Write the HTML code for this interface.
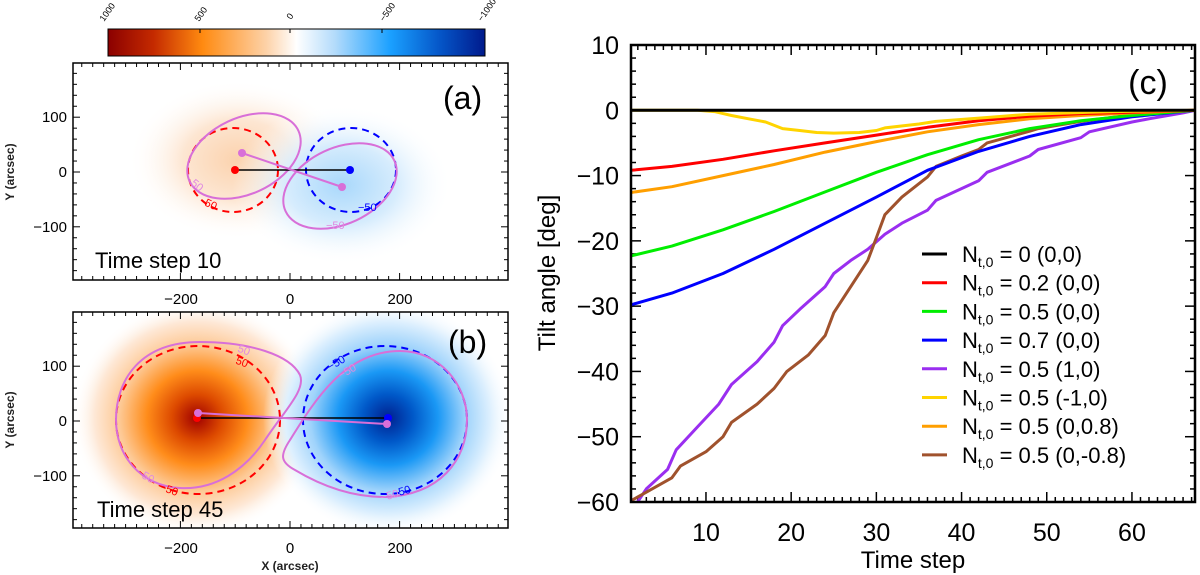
<!DOCTYPE html>
<html><head><meta charset="utf-8"><style>
html,body{margin:0;padding:0;background:#fff;}
svg{display:block;font-family:"Liberation Sans",sans-serif;}
</style></head><body>
<svg id="fig" width="1200" height="575" viewBox="0 0 1200 575">
<defs>
<linearGradient id="cbar" x1="0" x2="1" y1="0" y2="0">
<stop offset="0" stop-color="#8b0000"/><stop offset="0.12" stop-color="#c42a00"/><stop offset="0.25" stop-color="#ff8a10"/><stop offset="0.42" stop-color="#fdd2a8"/><stop offset="0.5" stop-color="#ffffff"/><stop offset="0.6" stop-color="#b5dcfb"/><stop offset="0.75" stop-color="#1aa0ff"/><stop offset="0.88" stop-color="#0556c8"/><stop offset="1" stop-color="#001a8c"/>
</linearGradient>
<radialGradient id="ra" cx="0.5" cy="0.5" r="0.5"><stop offset="0" stop-color="#fbd2ad"/><stop offset="0.5" stop-color="#fde6d2"/><stop offset="1" stop-color="#fff" stop-opacity="0"/></radialGradient>
<radialGradient id="ba" cx="0.5" cy="0.5" r="0.5"><stop offset="0" stop-color="#a9d8fb"/><stop offset="0.5" stop-color="#d6ecfd"/><stop offset="1" stop-color="#fff" stop-opacity="0"/></radialGradient>
<radialGradient id="rb" cx="0.5" cy="0.5" r="0.5"><stop offset="0" stop-color="#a00000"/><stop offset="0.2" stop-color="#dd4a00"/><stop offset="0.4" stop-color="#ff8c1a"/><stop offset="0.62" stop-color="#fdc995"/><stop offset="0.82" stop-color="#fee8d6"/><stop offset="1" stop-color="#fff" stop-opacity="0"/></radialGradient>
<radialGradient id="bb" cx="0.5" cy="0.5" r="0.5"><stop offset="0" stop-color="#00208f"/><stop offset="0.2" stop-color="#0058c8"/><stop offset="0.4" stop-color="#1a98f5"/><stop offset="0.62" stop-color="#9fd3fb"/><stop offset="0.82" stop-color="#def0fe"/><stop offset="1" stop-color="#fff" stop-opacity="0"/></radialGradient>
<clipPath id="cpa"><rect x="73" y="63" width="435" height="217"/></clipPath>
<clipPath id="cpb"><rect x="73" y="312" width="435" height="216"/></clipPath>
<clipPath id="cpc"><rect x="631" y="45" width="564" height="457"/></clipPath>
</defs>

<g>
<rect x="108" y="29" width="377" height="27" fill="url(#cbar)" stroke="#000" stroke-width="1"/>
<g font-size="9" fill="#000">
<text transform="translate(104,22) rotate(-55)">1000</text>
<text transform="translate(199,22) rotate(-55)">500</text>
<text transform="translate(291,20) rotate(-55)">0</text>
<text transform="translate(384,22) rotate(-55)">−500</text>
<text transform="translate(482,22) rotate(-55)">−1000</text>
</g>
<g stroke="#000" stroke-width="1"><line x1="200" y1="29" x2="200" y2="33"/><line x1="290" y1="29" x2="290" y2="33"/><line x1="382" y1="29" x2="382" y2="33"/></g>
</g>

<g>
<g clip-path="url(#cpa)">
<ellipse cx="238" cy="160" rx="110" ry="80" fill="url(#ra)"/>
<ellipse cx="342" cy="185" rx="110" ry="80" fill="url(#ba)"/>
</g>
<ellipse cx="233" cy="170" rx="45" ry="42" fill="none" stroke="#f00" stroke-width="2" stroke-dasharray="7,5"/>
<ellipse cx="351" cy="170" rx="45" ry="42" fill="none" stroke="#00f" stroke-width="2" stroke-dasharray="7,5"/>
<ellipse cx="244" cy="156" rx="60" ry="38" transform="rotate(-25 244 156)" fill="none" stroke="#d86fd8" stroke-width="2"/>
<ellipse cx="340" cy="186" rx="60" ry="38" transform="rotate(-25 340 186)" fill="none" stroke="#d86fd8" stroke-width="2"/>
<line x1="235" y1="170" x2="350" y2="170" stroke="#000" stroke-width="1.5"/>
<line x1="242" y1="153" x2="342" y2="187" stroke="#d86fd8" stroke-width="2"/>
<circle cx="235" cy="170" r="4" fill="#f00"/><circle cx="350" cy="170" r="4" fill="#00f"/>
<circle cx="242" cy="153" r="4" fill="#d86fd8"/><circle cx="342" cy="187" r="4" fill="#d86fd8"/>
<g font-size="11">
<text x="191" y="188" fill="#e08ae0" transform="rotate(40 196 185)">50</text>
<text x="205" y="208" fill="#f00" transform="rotate(25 211 204)">50</text>
<text x="358" y="211" fill="#00f">−50</text>
<text x="326" y="229" fill="#e08ae0">−50</text>
</g>
<rect x="73" y="63" width="435" height="217" fill="none" stroke="#000" stroke-width="1.5"/>
<text x="95" y="268" font-size="22">Time step 10</text>
<text x="443" y="109" font-size="32">(a)</text>
<text transform="translate(14,172) rotate(-90)" text-anchor="middle" font-size="12" font-weight="bold" fill="#222">Y (arcsec)</text>
<g font-size="15" text-anchor="middle">
<text x="181" y="304">−200</text><text x="290" y="304">0</text><text x="400" y="304">200</text></g>
<g font-size="15" text-anchor="end">
<text x="67" y="122">100</text><text x="67" y="177">0</text><text x="67" y="232">−100</text></g>
<g id="ticksA" stroke="#000" stroke-width="1"></g>
</g>

<g>
<g clip-path="url(#cpb)">
<ellipse cx="197" cy="418" rx="125" ry="118" fill="url(#rb)"/>
<ellipse cx="388" cy="418" rx="125" ry="118" fill="url(#bb)"/>
</g>
<ellipse cx="198" cy="420" rx="82" ry="74" fill="none" stroke="#f00" stroke-width="2" stroke-dasharray="7,5"/>
<ellipse cx="385" cy="420" rx="82" ry="74" fill="none" stroke="#00f" stroke-width="2" stroke-dasharray="7,5"/>
<path d="M200 342 C250 342 290 355 300 375 C306 390 285 410 265 440 C245 470 215 490 180 488 C140 486 116 455 116 420 C116 380 140 342 200 342 Z" fill="none" stroke="#d86fd8" stroke-width="2"/>
<path d="M400 351 C440 351 467 385 467 420 C467 460 440 495 385 497 C350 497 320 485 295 470 C280 462 280 455 290 440 C315 400 345 351 400 351 Z" fill="none" stroke="#d86fd8" stroke-width="2"/>
<line x1="197" y1="418" x2="388" y2="418" stroke="#000" stroke-width="1.5"/>
<line x1="198" y1="413" x2="387" y2="424" stroke="#d86fd8" stroke-width="2"/>
<circle cx="197" cy="418" r="4" fill="#f00"/><circle cx="388" cy="418" r="4" fill="#00f"/>
<circle cx="198" cy="413" r="4" fill="#d86fd8"/><circle cx="387" cy="424" r="4" fill="#d86fd8"/>
<g font-size="11">
<text x="238" y="354" fill="#e08ae0" transform="rotate(20 245 350)">50</text>
<text x="236" y="366" fill="#f00" transform="rotate(20 243 362)">50</text>
<text x="326" y="368" fill="#00f" transform="rotate(-30 333 362)">−50</text>
<text x="338" y="376" fill="#e08ae0" transform="rotate(-30 345 372)">−50</text>
<text x="142" y="482" fill="#e08ae0" transform="rotate(30 150 478)">50</text>
<text x="160" y="492" fill="#f00" transform="rotate(20 166 488)">−50</text>
<text x="392" y="496" fill="#00f" transform="rotate(-15 398 492)">−50</text>
<text x="380" y="500" fill="#e08ae0" transform="rotate(-15 386 496)">−50</text>
</g>
<rect x="73" y="312" width="435" height="216" fill="none" stroke="#000" stroke-width="1.5"/>
<text x="97" y="517" font-size="22">Time step 45</text>
<text x="448" y="353" font-size="32">(b)</text>
<text transform="translate(14,420) rotate(-90)" text-anchor="middle" font-size="12" font-weight="bold" fill="#222">Y (arcsec)</text>
<text x="290" y="570" text-anchor="middle" font-size="12" font-weight="bold" fill="#222">X (arcsec)</text>
<g font-size="15" text-anchor="middle">
<text x="181" y="553">−200</text><text x="290" y="553">0</text><text x="400" y="553">200</text></g>
<g font-size="15" text-anchor="end">
<text x="67" y="371">100</text><text x="67" y="426">0</text><text x="67" y="481">−100</text></g>
<g id="ticksB" stroke="#000" stroke-width="1"></g>
</g>

<g id="panelC">
<g id="cTicks" stroke="#000" stroke-width="1.5"></g>
<g id="cLabels"></g>
<g id="cLines" clip-path="url(#cpc)"></g>
<rect x="631" y="45" width="564" height="457" fill="none" stroke="#000" stroke-width="2.5"/>
<text x="1148" y="94" font-size="34" text-anchor="middle">(c)</text>
<text x="913" y="568" font-size="24" text-anchor="middle">Time step</text>
<text transform="translate(555,273) rotate(-90)" font-size="24" text-anchor="middle">Tilt angle [deg]</text>
<g id="legend"></g>
</g>
</svg>
<script>
const NS='http://www.w3.org/2000/svg';
const seriesNames=['0 (0,0)','0.2 (0,0)','0.5 (0,0)','0.7 (0,0)','0.5 (1,0)','0.5 (-1,0)','0.5 (0,0.8)','0.5 (0,-0.8)'];
const seriesColors=['#000000','#ff0000','#00ee00','#0000ff','#9a2ef0','#ffd400','#ff9f00','#a0522d'];
const blackX=[1.2,67.4];
const blackY=[0,0];
const redX=[1.2,6,12,18,24,30,36,42,48,54,60,67.4];
const redY=[-9.2,-8.6,-7.5,-6.2,-5,-3.8,-2.6,-1.6,-0.9,-0.5,-0.3,0];
const greenX=[1.2,6,12,18,24,30,36,42,48,54,60,67.4];
const greenY=[-22.3,-20.8,-18.3,-15.5,-12.5,-9.5,-6.8,-4.5,-2.8,-1.6,-0.8,0];
const blueX=[1.2,6,12,18,24,30,36,42,48,54,60,67.4];
const blueY=[-29.8,-28,-25,-21.3,-17.3,-13.3,-9.2,-6.3,-4,-2.2,-1,0];
const purpleX=[1.2,3,5.5,6.5,9,11.5,13,16,18,19,21,24,25,27,29,31,33,36,37,42,43,48,49,54,55,60,62,66,67.4];
const purpleY=[-61.5,-58,-55,-52,-48.5,-45,-42,-38.5,-35.5,-33,-30.5,-27,-25,-23,-21.3,-19,-17.3,-15.3,-13.8,-10.8,-9.5,-7,-6,-4.2,-3.3,-1.8,-1.3,-0.4,0];
const yellowX=[1.2,9,11,12,13,15,17,19,21,23,25,28,30,31,35,37,43,48,55,60,67.4];
const yellowY=[0,0,-0.2,-0.5,-0.8,-1.3,-1.8,-2.8,-3.1,-3.4,-3.5,-3.4,-3.1,-2.7,-2.1,-1.7,-1.1,-0.6,-0.3,-0.15,0];
const orangeX=[1.2,6,12,18,24,30,36,42,48,54,60,67.4];
const orangeY=[-12.6,-11.7,-10,-8.3,-6.4,-4.8,-3.3,-2.2,-1.3,-0.8,-0.4,0];
const brownX=[1.2,3,6,7,10,12,13,16,18,19.5,22,24,25,27,29,30,31,33,36,37,40,42,43,48,49,54,60,67.4];
const brownY=[-59.8,-58.5,-56.3,-54.5,-52.3,-50,-47.8,-45,-42.6,-40,-37.5,-34.5,-31,-27,-23,-19.5,-16,-13.3,-10.2,-8.6,-7,-6,-5,-3.2,-2.8,-1.7,-0.7,0];
const xTickVals=[10,20,30,40,50,60];
const yTickVals=[10,0,-10,-20,-30,-40,-50,-60];
const yTickLabels=['10','0','−10','−20','−30','−40','−50','−60'];

const X0=631,X1=1195,Y0=45,Y1=502,XMIN=1.2,XMAX=67.4,YMIN=-60,YMAX=10;
function sx(v){return X0+(v-XMIN)/(XMAX-XMIN)*(X1-X0);}
function sy(v){return Y1-(v-YMIN)/(YMAX-YMIN)*(Y1-Y0);}
function mk(tag,attrs,parent){const e=document.createElementNS(NS,tag);for(const k in attrs)e.setAttribute(k,attrs[k]);parent.appendChild(e);return e;}

const allX=[blackX,redX,greenX,blueX,purpleX,yellowX,orangeX,brownX];
const allY=[blackY,redY,greenY,blueY,purpleY,yellowY,orangeY,brownY];
const order=[4,7,3,2,6,1,5,0];
const lines=document.getElementById('cLines');
order.forEach(i=>{
  const d=allX[i].map((x,j)=>(j?'L':'M')+sx(x).toFixed(1)+' '+sy(allY[i][j]).toFixed(1)).join(' ');
  const p=mk('path',{d:d,fill:'none',stroke:seriesColors[i],'stroke-width':3,'stroke-linejoin':'round'},lines);
  
  
});
const tk=document.getElementById('cTicks');
for(let v=2;v<=67;v++){const x=sx(v);const L=(v%10===0)?10:5;
  mk('line',{x1:x,y1:Y1,x2:x,y2:Y1-L},tk);mk('line',{x1:x,y1:Y0,x2:x,y2:Y0+L},tk);}
for(let v=-60;v<=10;v+=2){const y=sy(v);const L=(v%10===0)?10:5;
  mk('line',{x1:X0,y1:y,x2:X0+L,y2:y},tk);mk('line',{x1:X1,y1:y,x2:X1-L,y2:y},tk);}
const lab=document.getElementById('cLabels');
xTickVals.forEach(v=>{const t=mk('text',{x:sx(v),y:541,'font-size':25,'text-anchor':'middle'},lab);t.textContent=String(v);
  
  });
yTickVals.forEach((v,i)=>{const t=mk('text',{x:619,y:sy(v)+9,'font-size':25,'text-anchor':'end'},lab);t.textContent=yTickLabels[i];
  
  });
const lg=document.getElementById('legend');
seriesNames.forEach((n,i)=>{const y=254+i*28.7;
  const g=mk('g',{},lg);
  
  
  mk('line',{x1:922,y1:y,x2:947,y2:y,stroke:seriesColors[i],'stroke-width':3},g);
  const t=mk('text',{x:962,y:y+8,'font-size':22},g);
  t.innerHTML='N<tspan font-size="14" dy="5">t,0</tspan><tspan dy="-5"> = '+n+'</tspan>';
});
function panTicks(id,top,bot,yc){const g=document.getElementById(id);
  for(let v=-380;v<=380;v+=20){const x=290+0.548*v;const L=(v%200===0)?7:4;
    mk('line',{x1:x,y1:bot,x2:x,y2:bot-L},g);mk('line',{x1:x,y1:top,x2:x,y2:top+L},g);}
  for(let v=-180;v<=180;v+=20){const y=yc-0.548*v;const L=(v%100===0)?7:4;
    mk('line',{x1:73,y1:y,x2:73+L,y2:y},g);mk('line',{x1:508,y1:y,x2:508-L,y2:y},g);}}
panTicks('ticksA',63,280,172);
panTicks('ticksB',312,528,421);
</script>
</body></html>
